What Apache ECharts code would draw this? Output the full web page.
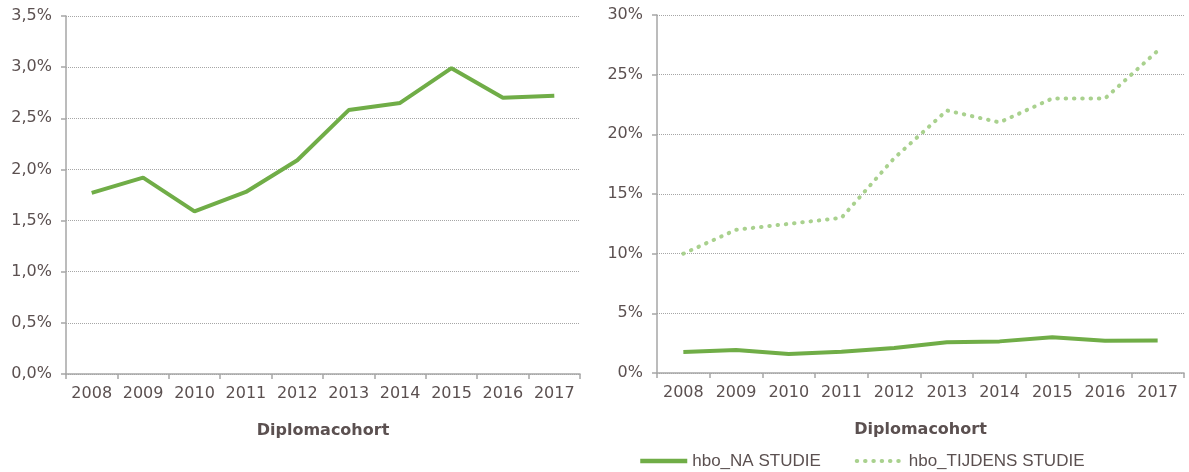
<!DOCTYPE html>
<html>
<head>
<meta charset="utf-8">
<script src="https://cdn.jsdelivr.net/npm/echarts@6/dist/echarts.min.js"></script>
<style>
  html, body { margin: 0; padding: 0; background: #fff; }
  #main { width: 1189px; height: 472px; }
</style>
</head>
<body>
<div id="main"></div>
<script>
var years = ['2008', '2009', '2010', '2011', '2012', '2013', '2014', '2015', '2016', '2017'];
// percentages
var naStudie = [1.77, 1.92, 1.59, 1.78, 2.09, 2.58, 2.65, 2.99, 2.70, 2.72];
var tijdensStudie = [10.0, 12.0, 12.5, 13.0, 18.0, 22.0, 21.0, 23.0, 23.0, 27.0];

var textColor = '#5b5050';
var axisColor = '#a6a6a6';
var green = '#70ad47';
var lightGreen = '#a9d18e';
var font = "'DejaVu Sans', Verdana, sans-serif";
var legendFont = "'Liberation Sans', Arial, sans-serif";

function xAxisFor(idx) {
    return {
        type: 'category',
        gridIndex: idx,
        data: years,
        boundaryGap: true,
        name: 'Diplomacohort',
        nameLocation: 'middle',
        nameGap: 49,
        nameTextStyle: { color: textColor, fontFamily: font, fontSize: 16, fontWeight: 'bold' },
        axisLine: { lineStyle: { color: axisColor, width: 1.5 } },
        axisTick: { show: true, interval: 0, length: 5, lineStyle: { color: axisColor, width: 1.5 } },
        axisLabel: { color: textColor, fontFamily: font, fontSize: 16, margin: 12, interval: 0 }
    };
}

function yAxisFor(idx, max, step, fmt) {
    return {
        type: 'value',
        gridIndex: idx,
        min: 0,
        max: max,
        interval: step,
        axisLine: { show: true, lineStyle: { color: axisColor, width: 1.5 } },
        axisTick: { show: true, length: 5, lineStyle: { color: axisColor, width: 1.5 } },
        axisLabel: { color: textColor, fontFamily: font, fontSize: 16, margin: 14, formatter: fmt },
        splitLine: { show: true, lineStyle: { color: axisColor, type: 'dotted', width: 1 } }
    };
}

var option = {
    animation: false,
    backgroundColor: '#fff',
    grid: [
        { left: 66, right: 609, top: 16, bottom: 98 },
        { left: 657, right: 5, top: 15, bottom: 99 }
    ],
    legend: {
        left: 638,
        top: 451,
        padding: 0,
        itemWidth: 47,
        itemHeight: 10,
        itemGap: 34,
        itemStyle: { opacity: 0 },
        textStyle: { color: textColor, fontFamily: legendFont, fontSize: 17, lineHeight: 20 },
        data: [
            { name: 'hbo_NA STUDIE', lineStyle: { width: 4.5 } },
            { name: 'hbo_TIJDENS STUDIE', lineStyle: { width: 4, type: [0.5, 7.8], cap: 'round' } }
        ]
    },
    xAxis: [xAxisFor(0), xAxisFor(1)],
    yAxis: [
        yAxisFor(0, 3.5, 0.5, function (v) { return v.toFixed(1).replace('.', ',') + '%'; }),
        yAxisFor(1, 30, 5, function (v) { return v + '%'; })
    ],
    series: [
        {
            name: 'hbo_NA STUDIE left',
            type: 'line',
            xAxisIndex: 0,
            yAxisIndex: 0,
            data: naStudie,
            symbol: 'none',
            lineStyle: { color: green, width: 4 },
            itemStyle: { color: green }
        },
        {
            name: 'hbo_NA STUDIE',
            type: 'line',
            xAxisIndex: 1,
            yAxisIndex: 1,
            data: naStudie,
            symbol: 'none',
            lineStyle: { color: green, width: 4 },
            itemStyle: { color: green }
        },
        {
            name: 'hbo_TIJDENS STUDIE',
            type: 'line',
            xAxisIndex: 1,
            yAxisIndex: 1,
            data: tijdensStudie,
            symbol: 'none',
            lineStyle: { color: lightGreen, width: 4, type: [0.5, 7.8], cap: 'round' },
            itemStyle: { color: lightGreen }
        }
    ]
};

var myChart = echarts.init(document.getElementById('main'));
myChart.setOption(option);
</script>
</body>
</html>
